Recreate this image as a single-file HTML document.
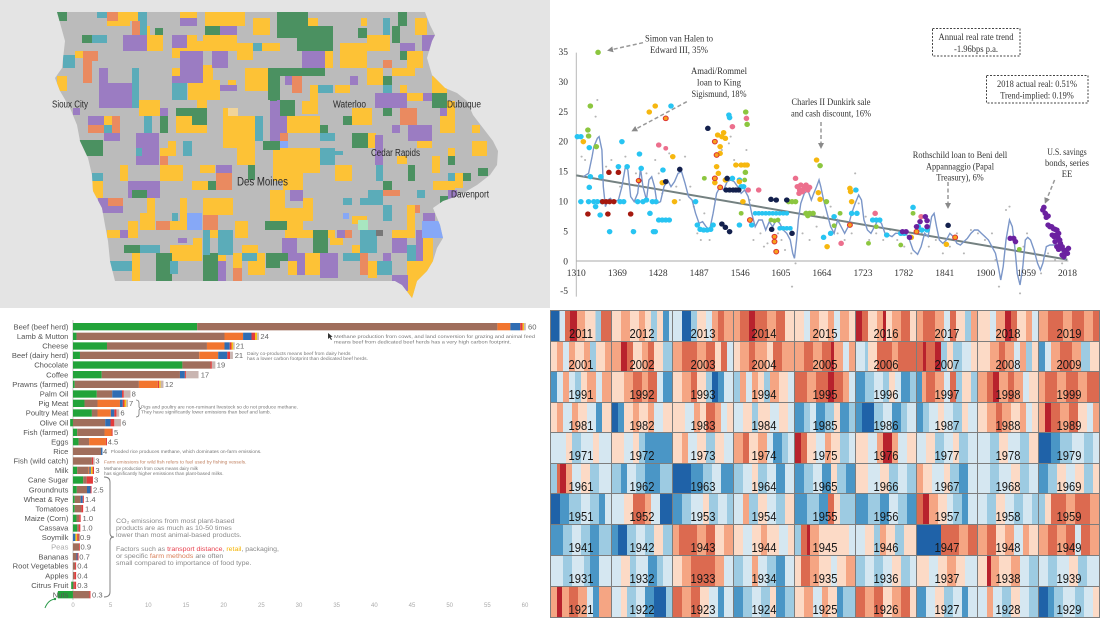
<!DOCTYPE html>
<html><head><meta charset="utf-8">
<style>
html,body{margin:0;padding:0;background:#fff;}
#w{position:relative;width:1100px;height:618px;overflow:hidden;background:#fff;font-family:"Liberation Sans",sans-serif;}
.abs{position:absolute;}
#map{left:0;top:0;width:550px;height:308px;background:#e4e4e4;}
#hm{left:550px;top:310px;width:550px;height:308px;background:#7d7d7d;
--a:#1f62a8;--b:#4a96c6;--c:#9dcbe2;--d:#d5e7f1;--e:#fcdac6;--f:#f5a583;--g:#dc6a50;--h:#b8222d;}
.k{position:absolute;width:60px;}
.k span{position:absolute;left:0;right:0;top:16px;text-align:center;font:13px/1 "Liberation Sans",sans-serif;color:#161616;transform:scaleX(.86);}
.Y{fill:#fdc236}.P{fill:#9b7cc2}.G{fill:#4b9161}.T{fill:#5bacb9}.O{fill:#ea8a60}.L{fill:#86a8f7}
.cy{fill:#27c4f2}.yo{fill:#f6b70f}.gr{fill:#8cc63f}.dr{fill:#a5190f}.nv{fill:#13204d}.pk{fill:#ec6f8d}.or{fill:#f7a21b;stroke:#d33;stroke-width:3}.pu{fill:#6b21a0}.sp{fill:#b5b5b5}
.bg{fill:#22a33a}.bb{fill:#a06e5c}.bo{fill:#f2752f}.bu{fill:#2f6db3}.br{fill:#e33b3b}.by{fill:#f7c31a}.bx{fill:#c9b5b1}
</style></head><body><div id="w">

<!-- MAP -->
<div id="map" class="abs">
<svg width="550" height="308" viewBox="0 0 550 308" style="position:absolute;left:0;top:0">
<defs><clipPath id="ia"><polygon points="57,12 425,12 430,25 435,35 432,41 427,58 432,75 445,88 457,93 467,101 473,115 483,128 493,141 498,151 497,165 490,175 477,185 460,195 443,201 433,208 440,225 443,238 437,248 433,261 427,271 417,281 413,295 412,298 402,285 395,281 115,281 110,261 108,241 105,225 102,208 93,191 92,175 88,158 80,141 77,125 70,108 60,91 55,78 62,68 65,41 57,12"/></clipPath></defs>
<polygon points="57,12 425,12 430,25 435,35 432,41 427,58 432,75 445,88 457,93 467,101 473,115 483,128 493,141 498,151 497,165 490,175 477,185 460,195 443,201 433,208 440,225 443,238 437,248 433,261 427,271 417,281 413,295 412,298 402,285 395,281 115,281 110,261 108,241 105,225 102,208 93,191 92,175 88,158 80,141 77,125 70,108 60,91 55,78 62,68 65,41 57,12" fill="#bbbbbb"/>
<g clip-path="url(#ia)">
<g class="Y">
<rect x="107" y="21" width="23" height="5"/><rect x="118" y="12" width="20" height="9"/><rect x="138" y="26" width="12" height="9"/><rect x="180" y="12" width="17" height="6"/><rect x="205" y="12" width="40" height="14"/><rect x="253" y="18" width="17" height="17"/><rect x="147" y="35" width="16" height="16"/><rect x="172" y="41" width="31" height="17"/><rect x="187" y="35" width="10" height="6"/><rect x="203" y="35" width="34" height="16"/><rect x="237" y="43" width="16" height="17"/><rect x="262" y="43" width="18" height="8"/><rect x="75" y="51" width="17" height="7"/><rect x="172" y="68" width="8" height="8"/><rect x="188" y="80" width="32" height="20"/><rect x="203" y="65" width="10" height="15"/><rect x="228" y="80" width="8" height="8"/><rect x="245" y="68" width="23" height="23"/><rect x="57" y="76" width="10" height="15"/><rect x="139" y="100" width="21" height="16"/><rect x="176" y="116" width="31" height="17"/><rect x="197" y="100" width="10" height="8"/><rect x="223" y="108" width="14" height="40"/><rect x="237" y="116" width="18" height="49"/><rect x="104" y="116" width="8" height="9"/><rect x="160" y="148" width="16" height="8"/><rect x="168" y="141" width="8" height="7"/><rect x="160" y="165" width="23" height="16"/><rect x="120" y="165" width="8" height="16"/><rect x="200" y="165" width="15" height="8"/><rect x="192" y="181" width="16" height="9"/><rect x="90" y="181" width="13" height="17"/><rect x="147" y="198" width="8" height="23"/><rect x="140" y="213" width="15" height="17"/><rect x="180" y="198" width="7" height="23"/><rect x="203" y="198" width="30" height="17"/><rect x="170" y="221" width="17" height="9"/><rect x="235" y="221" width="13" height="17"/><rect x="107" y="230" width="13" height="8"/><rect x="128" y="221" width="10" height="17"/><rect x="193" y="238" width="9" height="23"/><rect x="170" y="245" width="23" height="16"/><rect x="210" y="230" width="8" height="8"/><rect x="242" y="245" width="16" height="8"/><rect x="132" y="253" width="8" height="28"/><rect x="218" y="253" width="8" height="8"/><rect x="233" y="253" width="9" height="15"/><rect x="248" y="253" width="17" height="22"/>
<rect x="308" y="18" width="10" height="8"/><rect x="318" y="51" width="15" height="17"/><rect x="361" y="18" width="6" height="8"/><rect x="367" y="35" width="23" height="16"/><rect x="340" y="43" width="27" height="25"/><rect x="415" y="18" width="12" height="17"/><rect x="407" y="51" width="16" height="17"/><rect x="392" y="68" width="23" height="8"/><rect x="367" y="68" width="16" height="17"/><rect x="335" y="85" width="15" height="8"/><rect x="310" y="85" width="8" height="23"/><rect x="302" y="101" width="16" height="13"/><rect x="400" y="85" width="7" height="8"/><rect x="407" y="93" width="16" height="8"/><rect x="432" y="76" width="15" height="17"/><rect x="440" y="101" width="15" height="32"/><rect x="285" y="116" width="35" height="17"/><rect x="352" y="108" width="20" height="17"/><rect x="368" y="133" width="8" height="15"/><rect x="417" y="133" width="15" height="15"/><rect x="273" y="148" width="12" height="33"/><rect x="285" y="148" width="35" height="25"/><rect x="283" y="173" width="20" height="17"/><rect x="335" y="165" width="17" height="16"/><rect x="397" y="156" width="10" height="8"/><rect x="448" y="148" width="7" height="8"/><rect x="432" y="156" width="8" height="17"/><rect x="472" y="141" width="15" height="15"/><rect x="472" y="125" width="8" height="8"/><rect x="455" y="173" width="8" height="15"/><rect x="433" y="181" width="22" height="9"/><rect x="270" y="190" width="15" height="18"/><rect x="270" y="208" width="33" height="22"/><rect x="303" y="198" width="10" height="23"/><rect x="285" y="230" width="50" height="8"/><rect x="352" y="216" width="15" height="8"/><rect x="330" y="238" width="13" height="7"/><rect x="352" y="245" width="25" height="8"/><rect x="392" y="230" width="15" height="8"/><rect x="407" y="205" width="8" height="33"/><rect x="423" y="238" width="10" height="23"/><rect x="305" y="253" width="15" height="22"/><rect x="368" y="261" width="9" height="17"/><rect x="407" y="261" width="26" height="20"/><rect x="407" y="281" width="10" height="17"/><rect x="288" y="253" width="9" height="22"/>
</g>
<g class="P">
<rect x="180" y="18" width="17" height="8"/><rect x="220" y="26" width="17" height="9"/><rect x="123" y="35" width="24" height="16"/><rect x="172" y="35" width="15" height="13"/><rect x="212" y="51" width="16" height="17"/><rect x="180" y="51" width="23" height="32"/><rect x="172" y="76" width="8" height="7"/><rect x="220" y="85" width="17" height="6"/><rect x="99" y="68" width="9" height="40"/><rect x="108" y="83" width="24" height="25"/><rect x="160" y="108" width="8" height="8"/><rect x="73" y="108" width="7" height="7"/><rect x="88" y="116" width="16" height="9"/><rect x="104" y="133" width="16" height="8"/><rect x="136" y="133" width="23" height="32"/><rect x="216" y="165" width="16" height="8"/><rect x="128" y="181" width="32" height="17"/><rect x="98" y="198" width="25" height="15"/><rect x="120" y="230" width="8" height="8"/><rect x="178" y="238" width="9" height="5"/><rect x="210" y="261" width="16" height="20"/>
<rect x="302" y="48" width="23" height="20"/><rect x="285" y="76" width="7" height="9"/><rect x="422" y="35" width="13" height="16"/><rect x="400" y="43" width="15" height="8"/><rect x="350" y="76" width="8" height="9"/><rect x="423" y="93" width="9" height="8"/><rect x="375" y="93" width="32" height="15"/><rect x="270" y="100" width="17" height="41"/><rect x="440" y="108" width="7" height="8"/><rect x="392" y="125" width="8" height="8"/><rect x="408" y="125" width="24" height="16"/><rect x="375" y="135" width="8" height="30"/><rect x="448" y="190" width="9" height="11"/><rect x="290" y="190" width="13" height="11"/><rect x="423" y="213" width="12" height="17"/><rect x="337" y="230" width="8" height="8"/><rect x="392" y="238" width="15" height="15"/><rect x="416" y="230" width="7" height="31"/><rect x="282" y="238" width="15" height="23"/><rect x="297" y="253" width="8" height="22"/><rect x="320" y="253" width="18" height="25"/><rect x="383" y="253" width="8" height="8"/><rect x="392" y="275" width="16" height="16"/>
</g>
<g class="G">
<rect x="57" y="12" width="10" height="9"/><rect x="155" y="28" width="8" height="7"/><rect x="205" y="26" width="15" height="9"/><rect x="82" y="35" width="10" height="8"/><rect x="268" y="68" width="12" height="32"/><rect x="176" y="108" width="31" height="8"/><rect x="192" y="116" width="15" height="9"/><rect x="160" y="116" width="8" height="17"/><rect x="263" y="141" width="17" height="9"/><rect x="258" y="125" width="5" height="8"/><rect x="79" y="140" width="24" height="16"/><rect x="208" y="181" width="8" height="9"/><rect x="248" y="165" width="7" height="15"/><rect x="132" y="190" width="15" height="8"/><rect x="265" y="221" width="15" height="9"/><rect x="124" y="245" width="16" height="8"/><rect x="156" y="253" width="16" height="28"/><rect x="203" y="253" width="15" height="28"/><rect x="266" y="253" width="14" height="15"/>
<rect x="277" y="12" width="31" height="26"/><rect x="297" y="26" width="36" height="25"/><rect x="270" y="68" width="55" height="8"/><rect x="270" y="68" width="7" height="33"/><rect x="358" y="28" width="9" height="10"/><rect x="392" y="26" width="8" height="17"/><rect x="398" y="12" width="9" height="14"/><rect x="400" y="51" width="7" height="9"/><rect x="383" y="76" width="9" height="9"/><rect x="432" y="93" width="15" height="15"/><rect x="280" y="100" width="15" height="16"/><rect x="383" y="108" width="9" height="8"/><rect x="343" y="116" width="9" height="9"/><rect x="320" y="125" width="8" height="8"/><rect x="352" y="133" width="16" height="15"/><rect x="448" y="156" width="7" height="9"/><rect x="408" y="165" width="7" height="16"/><rect x="478" y="168" width="10" height="8"/><rect x="463" y="173" width="8" height="8"/><rect x="440" y="196" width="8" height="8"/><rect x="383" y="181" width="9" height="9"/><rect x="313" y="230" width="15" height="23"/><rect x="270" y="253" width="18" height="8"/><rect x="270" y="221" width="17" height="9"/>
</g>
<g class="T">
<rect x="97" y="12" width="10" height="6"/><rect x="138" y="12" width="9" height="23"/><rect x="92" y="35" width="15" height="8"/><rect x="253" y="43" width="9" height="8"/><rect x="63" y="55" width="12" height="13"/><rect x="172" y="83" width="15" height="17"/><rect x="132" y="68" width="7" height="40"/><rect x="104" y="125" width="8" height="8"/><rect x="144" y="116" width="8" height="17"/><rect x="255" y="116" width="8" height="25"/><rect x="183" y="141" width="9" height="15"/><rect x="136" y="148" width="6" height="8"/><rect x="92" y="173" width="11" height="8"/><rect x="172" y="213" width="6" height="8"/><rect x="203" y="230" width="7" height="25"/><rect x="218" y="230" width="15" height="25"/><rect x="140" y="245" width="20" height="8"/><rect x="107" y="261" width="25" height="10"/><rect x="170" y="261" width="8" height="13"/><rect x="242" y="253" width="15" height="8"/>
<rect x="383" y="18" width="7" height="17"/><rect x="383" y="85" width="9" height="8"/><rect x="318" y="85" width="15" height="8"/><rect x="320" y="133" width="15" height="8"/><rect x="320" y="148" width="15" height="17"/><rect x="335" y="151" width="8" height="4"/><rect x="376" y="165" width="7" height="16"/><rect x="448" y="173" width="7" height="8"/><rect x="417" y="190" width="8" height="8"/><rect x="368" y="190" width="15" height="15"/><rect x="360" y="198" width="8" height="7"/><rect x="343" y="198" width="9" height="7"/><rect x="383" y="205" width="9" height="16"/><rect x="360" y="230" width="17" height="23"/><rect x="407" y="245" width="9" height="16"/><rect x="343" y="253" width="17" height="8"/><rect x="377" y="261" width="15" height="14"/>
</g>
<g class="O">
<rect x="107" y="12" width="11" height="9"/><rect x="132" y="21" width="8" height="14"/><rect x="83" y="51" width="9" height="32"/><rect x="92" y="51" width="6" height="10"/><rect x="88" y="125" width="16" height="8"/><rect x="112" y="116" width="8" height="17"/><rect x="160" y="156" width="8" height="9"/><rect x="216" y="173" width="16" height="17"/><rect x="108" y="198" width="15" height="8"/><rect x="203" y="215" width="15" height="15"/><rect x="156" y="221" width="14" height="9"/><rect x="233" y="268" width="9" height="13"/>
<rect x="383" y="60" width="9" height="8"/><rect x="292" y="76" width="10" height="17"/><rect x="400" y="108" width="17" height="17"/><rect x="280" y="133" width="8" height="8"/><rect x="383" y="190" width="17" height="6"/><rect x="345" y="230" width="7" height="8"/><rect x="360" y="253" width="8" height="22"/><rect x="415" y="205" width="5" height="8"/>
</g>
<g class="L"><rect x="187" y="213" width="15" height="17"/><rect x="280" y="141" width="8" height="7"/><rect x="343" y="213" width="6" height="6"/><rect x="422" y="221" width="21" height="17"/></g>
<rect fill="#a8e6c0" x="358" y="220" width="10" height="10"/><rect fill="#777" x="376" y="230" width="7" height="6"/><rect fill="#f0d49a" x="228" y="108" width="10" height="8"/>
</g></svg></div>

<!-- TOP RIGHT CHART -->
<svg class="abs" style="left:550px;top:0" width="550" height="308" viewBox="0 0 1568 924" preserveAspectRatio="none">
<line x1="75" y1="158" x2="75" y2="890" stroke="#b8b8b8" stroke-width="1" vector-effect="non-scaling-stroke"/>
<line x1="75" y1="783" x2="1478" y2="783" stroke="#aaa" stroke-width="1" vector-effect="non-scaling-stroke"/>
<g class="sp">
<circle cx="90" cy="470" r="3"/><circle cx="100" cy="480" r="3"/><circle cx="115" cy="560" r="3"/><circle cx="130" cy="350" r="3"/><circle cx="135" cy="300" r="3"/><circle cx="145" cy="640" r="3"/><circle cx="160" cy="500" r="3"/><circle cx="175" cy="480" r="3"/><circle cx="190" cy="520" r="3"/><circle cx="200" cy="560" r="3"/><circle cx="215" cy="470" r="3"/><circle cx="225" cy="640" r="3"/><circle cx="235" cy="690" r="3"/><circle cx="245" cy="520" r="3"/><circle cx="260" cy="460" r="3"/><circle cx="275" cy="520" r="3"/><circle cx="280" cy="640" r="3"/><circle cx="300" cy="480" r="3"/><circle cx="310" cy="520" r="3"/><circle cx="320" cy="580" r="3"/><circle cx="340" cy="460" r="3"/><circle cx="360" cy="560" r="3"/><circle cx="370" cy="600" r="3"/><circle cx="385" cy="470" r="3"/><circle cx="400" cy="560" r="3"/><circle cx="410" cy="620" r="3"/><circle cx="420" cy="700" r="3"/><circle cx="430" cy="720" r="3"/><circle cx="440" cy="640" r="3"/><circle cx="455" cy="720" r="3"/><circle cx="470" cy="600" r="3"/><circle cx="490" cy="450" r="3"/><circle cx="510" cy="430" r="3"/><circle cx="515" cy="410" r="3"/><circle cx="525" cy="480" r="3"/><circle cx="560" cy="450" r="3"/><circle cx="570" cy="600" r="3"/><circle cx="580" cy="720" r="3"/><circle cx="600" cy="700" r="3"/><circle cx="610" cy="740" r="3"/><circle cx="620" cy="730" r="3"/><circle cx="650" cy="700" r="3"/><circle cx="660" cy="720" r="3"/><circle cx="670" cy="750" r="3"/><circle cx="690" cy="860" r="3"/><circle cx="700" cy="790" r="3"/><circle cx="720" cy="700" r="3"/><circle cx="740" cy="720" r="3"/><circle cx="760" cy="680" r="3"/><circle cx="780" cy="650" r="3"/><circle cx="800" cy="620" r="3"/><circle cx="820" cy="700" r="3"/><circle cx="840" cy="720" r="3"/><circle cx="860" cy="700" r="3"/><circle cx="870" cy="520" r="3"/><circle cx="880" cy="610" r="3"/><circle cx="900" cy="650" r="3"/><circle cx="910" cy="720" r="3"/><circle cx="930" cy="700" r="3"/><circle cx="950" cy="720" r="3"/><circle cx="970" cy="690" r="3"/><circle cx="990" cy="720" r="3"/><circle cx="1010" cy="740" r="3"/><circle cx="1030" cy="760" r="3"/><circle cx="1060" cy="700" r="3"/><circle cx="1080" cy="740" r="3"/><circle cx="1100" cy="720" r="3"/><circle cx="1120" cy="760" r="3"/><circle cx="1140" cy="740" r="3"/><circle cx="1160" cy="700" r="3"/><circle cx="1180" cy="760" r="3"/><circle cx="1200" cy="690" r="3"/><circle cx="1220" cy="700" r="3"/><circle cx="1240" cy="720" r="3"/><circle cx="1260" cy="700" r="3"/><circle cx="1270" cy="780" r="3"/><circle cx="1280" cy="860" r="3"/><circle cx="1300" cy="630" r="3"/><circle cx="1310" cy="620" r="3"/><circle cx="1320" cy="720" r="3"/><circle cx="1340" cy="880" r="3"/><circle cx="1350" cy="740" r="3"/><circle cx="1360" cy="700" r="3"/><circle cx="1380" cy="760" r="3"/><circle cx="1400" cy="820" r="3"/><circle cx="1420" cy="760" r="3"/><circle cx="1440" cy="780" r="3"/><circle cx="1460" cy="790" r="3"/>
</g>
<line x1="75" y1="526" x2="1475" y2="779" stroke="#748181" stroke-width="2" vector-effect="non-scaling-stroke"/>
<polyline fill="none" stroke="#7b96c8" stroke-width="1.4" vector-effect="non-scaling-stroke" points="95,530 110,520 120,470 125,440 135,415 140,410 148,450 152,560 158,620 165,600 172,595 180,605 195,600 205,560 215,500 222,510 230,590 240,605 250,580 258,505 265,560 275,600 282,540 290,530 298,560 305,610 315,605 325,560 335,540 345,560 355,545 365,520 375,515 385,550 395,590 405,600 415,640 425,670 435,665 445,680 455,690 465,640 475,580 485,560 495,570 505,545 515,540 525,545 535,560 545,580 555,570 565,590 575,640 585,680 595,660 605,660 615,690 625,665 635,680 645,660 655,670 665,690 675,700 685,720 692,760 697,775 703,720 708,660 715,610 725,580 735,570 745,600 752,580 760,560 767,540 772,560 780,600 790,640 800,680 810,700 820,660 830,680 840,700 850,680 860,640 870,610 880,585 888,600 895,660 905,690 915,700 925,680 935,660 945,670 955,700 965,705 975,710 985,700 995,700 1005,705 1015,700 1025,720 1035,750 1048,763 1058,740 1068,700 1078,710 1088,650 1095,640 1102,680 1110,720 1120,730 1130,720 1140,700 1150,710 1160,730 1170,735 1180,725 1190,715 1200,700 1210,690 1220,690 1230,700 1240,710 1250,720 1260,740 1270,760 1278,800 1285,840 1292,800 1300,720 1310,660 1318,680 1325,740 1332,820 1340,855 1348,800 1355,720 1362,712 1370,720 1380,750 1390,790 1398,810 1405,790 1415,740 1425,735 1440,735 1455,740 1470,780"/>
<g>
<g class="gr"><circle cx="137" cy="157" r="8"/><circle cx="115" cy="318" r="8"/><circle cx="108" cy="390" r="8"/><circle cx="110" cy="408" r="8"/><circle cx="132" cy="440" r="8"/><circle cx="558" cy="336" r="8"/><circle cx="562" cy="373" r="8"/><circle cx="557" cy="517" r="8"/><circle cx="770" cy="497" r="8"/><circle cx="630" cy="660" r="7"/><circle cx="640" cy="662" r="7"/><circle cx="650" cy="660" r="7"/><circle cx="680" cy="605" r="8"/><circle cx="690" cy="605" r="8"/><circle cx="700" cy="605" r="8"/><circle cx="730" cy="640" r="8"/><circle cx="740" cy="640" r="8"/><circle cx="750" cy="640" r="8"/><circle cx="735" cy="647" r="8"/><circle cx="788" cy="605" r="8"/><circle cx="827" cy="640" r="7"/><circle cx="810" cy="677" r="7"/><circle cx="908" cy="730" r="7"/><circle cx="1035" cy="640" r="7"/><circle cx="1000" cy="735" r="7"/><circle cx="1338" cy="748" r="7"/><circle cx="930" cy="680" r="7"/><circle cx="545" cy="640" r="7"/><circle cx="555" cy="540" r="7"/><circle cx="440" cy="535" r="7"/></g>
<g class="cy"><circle cx="78" cy="410" r="8"/><circle cx="88" cy="410" r="8"/><circle cx="205" cy="425" r="8"/><circle cx="112" cy="443" r="8"/><circle cx="115" cy="530" r="8"/><circle cx="112" cy="562" r="8"/><circle cx="145" cy="530" r="8"/><circle cx="88" cy="605" r="8"/><circle cx="110" cy="605" r="8"/><circle cx="125" cy="605" r="8"/><circle cx="135" cy="605" r="8"/><circle cx="148" cy="605" r="8"/><circle cx="130" cy="620" r="8"/><circle cx="143" cy="645" r="8"/><circle cx="170" cy="695" r="8"/><circle cx="220" cy="500" r="8"/><circle cx="195" cy="500" r="8"/><circle cx="200" cy="605" r="8"/><circle cx="210" cy="605" r="8"/><circle cx="238" cy="695" r="8"/><circle cx="255" cy="462" r="8"/><circle cx="260" cy="505" r="8"/><circle cx="250" cy="605" r="8"/><circle cx="265" cy="605" r="8"/><circle cx="275" cy="600" r="8"/><circle cx="285" cy="640" r="8"/><circle cx="295" cy="695" r="8"/><circle cx="300" cy="695" r="8"/><circle cx="310" cy="660" r="8"/><circle cx="320" cy="660" r="8"/><circle cx="330" cy="660" r="8"/><circle cx="340" cy="660" r="8"/><circle cx="345" cy="318" r="8"/><circle cx="322" cy="510" r="8"/><circle cx="292" cy="605" r="8"/><circle cx="302" cy="605" r="8"/><circle cx="415" cy="605" r="8"/><circle cx="420" cy="675" r="8"/><circle cx="428" cy="688" r="8"/><circle cx="438" cy="690" r="8"/><circle cx="448" cy="690" r="8"/><circle cx="458" cy="688" r="8"/><circle cx="465" cy="675" r="8"/><circle cx="510" cy="345" r="8"/><circle cx="512" cy="353" r="8"/><circle cx="520" cy="535" r="8"/><circle cx="540" cy="540" r="8"/><circle cx="545" cy="560" r="8"/><circle cx="552" cy="560" r="8"/><circle cx="540" cy="675" r="8"/><circle cx="575" cy="675" r="8"/><circle cx="585" cy="640" r="7"/><circle cx="595" cy="640" r="7"/><circle cx="605" cy="640" r="7"/><circle cx="615" cy="640" r="7"/><circle cx="625" cy="640" r="7"/><circle cx="635" cy="640" r="7"/><circle cx="645" cy="640" r="7"/><circle cx="655" cy="640" r="7"/><circle cx="665" cy="640" r="7"/><circle cx="675" cy="640" r="7"/><circle cx="655" cy="685" r="7"/><circle cx="665" cy="685" r="7"/><circle cx="675" cy="685" r="7"/><circle cx="685" cy="685" r="7"/><circle cx="780" cy="712" r="8"/><circle cx="800" cy="700" r="8"/><circle cx="810" cy="650" r="8"/><circle cx="860" cy="640" r="8"/><circle cx="872" cy="570" r="8"/><circle cx="875" cy="640" r="8"/><circle cx="920" cy="660" r="8"/><circle cx="930" cy="660" r="8"/><circle cx="940" cy="660" r="8"/><circle cx="960" cy="705" r="8"/><circle cx="1000" cy="700" r="8"/><circle cx="1010" cy="700" r="8"/><circle cx="1035" cy="622" r="8"/><circle cx="1050" cy="680" r="8"/><circle cx="1060" cy="690" r="8"/><circle cx="1075" cy="690" r="8"/></g>
<g class="yo"><circle cx="95" cy="425" r="8"/><circle cx="283" cy="336" r="8"/><circle cx="300" cy="318" r="8"/><circle cx="355" cy="605" r="8"/><circle cx="350" cy="470" r="8"/><circle cx="320" cy="548" r="8"/><circle cx="478" cy="405" r="8"/><circle cx="490" cy="410" r="8"/><circle cx="495" cy="398" r="8"/><circle cx="500" cy="415" r="8"/><circle cx="485" cy="460" r="8"/><circle cx="485" cy="440" r="8"/><circle cx="480" cy="520" r="8"/><circle cx="470" cy="548" r="8"/><circle cx="475" cy="500" r="8"/><circle cx="500" cy="540" r="8"/><circle cx="530" cy="495" r="8"/><circle cx="545" cy="495" r="8"/><circle cx="555" cy="495" r="8"/><circle cx="562" cy="495" r="8"/><circle cx="540" cy="545" r="8"/><circle cx="550" cy="605" r="8"/><circle cx="760" cy="480" r="8"/><circle cx="765" cy="578" r="8"/><circle cx="770" cy="598" r="8"/><circle cx="790" cy="740" r="8"/><circle cx="855" cy="565" r="8"/><circle cx="860" cy="605" r="8"/><circle cx="857" cy="575" r="8"/><circle cx="1030" cy="712" r="8"/><circle cx="1130" cy="733" r="8"/></g>
<g class="dr"><circle cx="108" cy="642" r="8"/><circle cx="150" cy="605" r="8"/><circle cx="160" cy="605" r="8"/><circle cx="170" cy="605" r="8"/><circle cx="182" cy="605" r="8"/><circle cx="165" cy="642" r="8"/><circle cx="168" cy="517" r="8"/><circle cx="195" cy="517" r="8"/><circle cx="230" cy="642" r="8"/><circle cx="253" cy="542" r="8"/></g>
<g class="nv"><circle cx="450" cy="385" r="8"/><circle cx="370" cy="508" r="8"/><circle cx="330" cy="545" r="8"/><circle cx="505" cy="535" r="8"/><circle cx="502" cy="570" r="8"/><circle cx="512" cy="570" r="8"/><circle cx="522" cy="570" r="8"/><circle cx="530" cy="570" r="8"/><circle cx="538" cy="570" r="8"/><circle cx="490" cy="672" r="8"/><circle cx="500" cy="682" r="8"/><circle cx="512" cy="695" r="8"/><circle cx="630" cy="598" r="8"/><circle cx="645" cy="600" r="8"/><circle cx="632" cy="688" r="8"/><circle cx="675" cy="600" r="8"/><circle cx="690" cy="700" r="8"/><circle cx="1135" cy="676" r="8"/></g>
<g class="pk"><circle cx="310" cy="435" r="8"/><circle cx="520" cy="380" r="8"/><circle cx="560" cy="355" r="8"/><circle cx="565" cy="570" r="8"/><circle cx="595" cy="570" r="8"/><circle cx="700" cy="535" r="8"/><circle cx="705" cy="560" r="8"/><circle cx="712" cy="570" r="8"/><circle cx="715" cy="555" r="8"/><circle cx="720" cy="575" r="8"/><circle cx="725" cy="565" r="8"/><circle cx="730" cy="555" r="8"/><circle cx="735" cy="570" r="8"/><circle cx="740" cy="562" r="8"/><circle cx="710" cy="580" r="8"/><circle cx="830" cy="730" r="8"/><circle cx="927" cy="640" r="8"/><circle cx="1058" cy="650" r="8"/><circle cx="330" cy="445" r="7"/></g>
<g class="or"><circle cx="330" cy="355" r="7"/><circle cx="470" cy="425" r="7"/><circle cx="475" cy="465" r="7"/><circle cx="485" cy="562" r="7"/><circle cx="470" cy="535" r="7"/><circle cx="640" cy="710" r="7"/><circle cx="640" cy="725" r="7"/><circle cx="645" cy="755" r="7"/><circle cx="855" cy="675" r="7"/><circle cx="1045" cy="695" r="7"/><circle cx="1155" cy="712" r="7"/><circle cx="252" cy="542" r="6"/><circle cx="570" cy="660" r="7"/></g>
<g class="pu"><circle cx="1405" cy="630" r="8"/><circle cx="1408" cy="622" r="8"/><circle cx="1412" cy="640" r="8"/><circle cx="1415" cy="652" r="8"/><circle cx="1420" cy="675" r="8"/><circle cx="1425" cy="680" r="8"/><circle cx="1430" cy="680" r="8"/><circle cx="1435" cy="686" r="8"/><circle cx="1440" cy="688" r="8"/><circle cx="1445" cy="690" r="8"/><circle cx="1450" cy="700" r="8"/><circle cx="1420" cy="648" r="8"/><circle cx="1432" cy="705" r="8"/><circle cx="1437" cy="710" r="8"/><circle cx="1442" cy="705" r="8"/><circle cx="1448" cy="712" r="8"/><circle cx="1453" cy="720" r="8"/><circle cx="1455" cy="730" r="8"/><circle cx="1460" cy="740" r="8"/><circle cx="1465" cy="750" r="8"/><circle cx="1470" cy="755" r="8"/><circle cx="1475" cy="760" r="8"/><circle cx="1460" cy="765" r="8"/><circle cx="1465" cy="770" r="8"/><circle cx="1478" cy="745" r="8"/><circle cx="1440" cy="725" r="8"/><circle cx="1445" cy="740" r="8"/><circle cx="1450" cy="748" r="8"/><circle cx="1312" cy="715" r="8"/><circle cx="1322" cy="715" r="8"/><circle cx="1327" cy="725" r="8"/><circle cx="1055" cy="665" r="8"/><circle cx="1070" cy="650" r="8"/><circle cx="1075" cy="662" r="8"/><circle cx="1075" cy="680" r="8"/><circle cx="1045" cy="680" r="8"/><circle cx="1005" cy="695" r="8"/><circle cx="1015" cy="695" r="8"/><circle cx="1025" cy="712" r="8"/></g>
</g>
</svg>

<!-- BOTTOM LEFT BAR CHART -->
<svg class="abs" style="left:0;top:300px" width="550" height="318" viewBox="0 0 1568 954" preserveAspectRatio="none">
<line x1="208" y1="60" x2="208" y2="900" stroke="#ccc" stroke-width="1" vector-effect="non-scaling-stroke"/>
<g>
<rect class="bg" x="208" y="69" width="354" height="22"/><rect class="bb" x="562" y="69" width="856" height="22"/><rect class="bo" x="1418" y="69" width="37" height="22"/><rect class="bu" x="1455" y="69" width="28" height="22"/><rect class="br" x="1483" y="69" width="7" height="22"/><rect class="by" x="1490" y="69" width="4" height="22"/><rect class="bx" x="1494" y="69" width="5" height="22"/>
<rect class="bg" x="208" y="98" width="10" height="22"/><rect class="bb" x="218" y="98" width="422" height="22"/><rect class="bo" x="640" y="98" width="53" height="22"/><rect class="bu" x="693" y="98" width="24" height="22"/><rect class="br" x="717" y="98" width="10" height="22"/><rect class="by" x="727" y="98" width="6" height="22"/><rect class="bx" x="733" y="98" width="5" height="22"/>
<rect class="bg" x="208" y="127" width="97" height="22"/><rect class="bb" x="305" y="127" width="285" height="22"/><rect class="bo" x="590" y="127" width="50" height="22"/><rect class="bu" x="640" y="127" width="15" height="22"/><rect class="br" x="655" y="127" width="5" height="22"/><rect class="by" x="660" y="127" width="5" height="22"/><rect class="bx" x="665" y="127" width="4" height="22"/>
<rect class="bg" x="208" y="155" width="20" height="22"/><rect class="bb" x="228" y="155" width="340" height="22"/><rect class="bo" x="568" y="155" width="54" height="22"/><rect class="bu" x="622" y="155" width="26" height="22"/><rect class="br" x="648" y="155" width="8" height="22"/><rect class="bx" x="656" y="155" width="8" height="22"/>
<rect class="bg" x="208" y="184" width="312" height="22"/><rect class="bb" x="520" y="184" width="80" height="22"/><rect class="br" x="600" y="184" width="4" height="22"/><rect class="bx" x="604" y="184" width="10" height="22"/>
<rect class="bg" x="208" y="213" width="82" height="22"/><rect class="bb" x="290" y="213" width="223" height="22"/><rect class="bu" x="513" y="213" width="14" height="22"/><rect class="br" x="527" y="213" width="3" height="22"/><rect class="bx" x="530" y="213" width="36" height="22"/>
<rect class="bg" x="208" y="242" width="5" height="22"/><rect class="bb" x="213" y="242" width="183" height="22"/><rect class="bo" x="396" y="242" width="54" height="22"/><rect class="br" x="450" y="242" width="4" height="22"/><rect class="by" x="454" y="242" width="4" height="22"/><rect class="bx" x="458" y="242" width="8" height="22"/>
<rect class="bg" x="208" y="271" width="68" height="22"/><rect class="bb" x="276" y="271" width="44" height="22"/><rect class="bu" x="320" y="271" width="28" height="22"/><rect class="br" x="348" y="271" width="5" height="22"/><rect class="bx" x="353" y="271" width="19" height="22"/>
<rect class="bg" x="208" y="299" width="33" height="22"/><rect class="bb" x="241" y="299" width="37" height="22"/><rect class="bo" x="278" y="299" width="64" height="22"/><rect class="bu" x="342" y="299" width="8" height="22"/><rect class="br" x="350" y="299" width="5" height="22"/><rect class="by" x="355" y="299" width="5" height="22"/><rect class="bx" x="360" y="299" width="5" height="22"/>
<rect class="bg" x="208" y="328" width="54" height="22"/><rect class="bb" x="262" y="328" width="16" height="22"/><rect class="bo" x="278" y="328" width="38" height="22"/><rect class="bu" x="316" y="328" width="10" height="22"/><rect class="br" x="326" y="328" width="6" height="22"/><rect class="bx" x="332" y="328" width="8" height="22"/>
<rect class="bg" x="200" y="357" width="8" height="22"/><rect class="bb" x="208" y="357" width="92" height="22"/><rect class="bu" x="300" y="357" width="15" height="22"/><rect class="br" x="315" y="357" width="11" height="22"/><rect class="bx" x="326" y="357" width="19" height="22"/>
<rect class="bg" x="208" y="386" width="12" height="22"/><rect class="bb" x="220" y="386" width="78" height="22"/><rect class="bo" x="298" y="386" width="20" height="22"/><rect class="br" x="318" y="386" width="3" height="22"/>
<rect class="bg" x="208" y="414" width="16" height="22"/><rect class="bb" x="224" y="414" width="30" height="22"/><rect class="bo" x="254" y="414" width="48" height="22"/><rect class="br" x="302" y="414" width="3" height="22"/>
<rect class="bb" x="208" y="443" width="80" height="22"/><rect class="bu" x="288" y="443" width="4" height="22"/>
<rect class="bb" x="208" y="472" width="54" height="22"/><rect class="br" x="262" y="472" width="4" height="22"/><rect class="bx" x="266" y="472" width="4" height="22"/>
<rect class="bg" x="208" y="500" width="12" height="22"/><rect class="bb" x="220" y="500" width="32" height="22"/><rect class="bo" x="252" y="500" width="3" height="22"/><rect class="bu" x="255" y="500" width="4" height="22"/><rect class="by" x="259" y="500" width="5" height="22"/><rect class="br" x="264" y="500" width="4" height="22"/>
<rect class="bg" x="208" y="529" width="29" height="22"/><rect class="bb" x="237" y="529" width="10" height="22"/><rect class="br" x="247" y="529" width="18" height="22"/>
<rect class="bg" x="208" y="558" width="11" height="22"/><rect class="bb" x="219" y="558" width="29" height="22"/><rect class="bu" x="248" y="558" width="10" height="22"/><rect class="br" x="258" y="558" width="3" height="22"/>
<rect class="bg" x="208" y="587" width="5" height="22"/><rect class="bb" x="213" y="587" width="17" height="22"/><rect class="bu" x="230" y="587" width="6" height="22"/><rect class="br" x="236" y="587" width="3" height="22"/>
<rect class="bg" x="208" y="615" width="5" height="22"/><rect class="bb" x="213" y="615" width="19" height="22"/><rect class="br" x="232" y="615" width="5" height="22"/>
<rect class="bg" x="208" y="644" width="10" height="22"/><rect class="bb" x="218" y="644" width="8" height="22"/><rect class="br" x="226" y="644" width="4" height="22"/>
<rect class="bg" x="208" y="673" width="12" height="22"/><rect class="bb" x="220" y="673" width="5" height="22"/><rect class="br" x="225" y="673" width="4" height="22"/>
<rect class="bu" x="208" y="701" width="7" height="22"/><rect class="by" x="215" y="701" width="5" height="22"/><rect class="br" x="220" y="701" width="4" height="22"/><rect class="bb" x="224" y="701" width="3" height="22"/>
<rect class="bb" x="208" y="730" width="18" height="22"/><rect class="br" x="226" y="730" width="2" height="22"/>
<rect class="bb" x="208" y="759" width="10" height="22"/><rect class="bu" x="218" y="759" width="3" height="22"/><rect class="br" x="221" y="759" width="3" height="22"/>
<rect class="bb" x="208" y="787" width="6" height="22"/><rect class="br" x="214" y="787" width="3" height="22"/>
<rect class="bb" x="208" y="816" width="4" height="22"/><rect class="br" x="212" y="816" width="5" height="22"/>
<rect class="bg" x="203" y="845" width="5" height="22"/><rect class="bb" x="208" y="845" width="4" height="22"/><rect class="br" x="212" y="845" width="5" height="22"/>
<rect class="bg" x="165" y="873" width="43" height="22"/><rect class="bb" x="208" y="873" width="47" height="22"/><rect class="br" x="255" y="873" width="3" height="22"/>
</g>
</svg>

<!-- HEATMAP -->
<div id="hm" class="abs">
<div class="k" style="left:1px;top:1px;height:30px;background:linear-gradient(90deg,var(--a) 0 14%,var(--d) 14% 23%,var(--g) 23% 32%,var(--h) 32% 43%,var(--f) 43% 57%,var(--e) 57% 74%,var(--c) 74% 83%,var(--g) 83% 100%)"><span>2011</span></div>
<div class="k" style="left:62px;top:1px;height:30px;background:linear-gradient(90deg,var(--e) 0 15%,var(--f) 15% 30%,var(--e) 30% 45%,var(--f) 45% 55%,var(--e) 55% 65%,var(--c) 65% 75%,var(--e) 75% 85%,var(--b) 85% 95%,var(--d) 95% 100%)"><span>2012</span></div>
<div class="k" style="left:123px;top:1px;height:30px;background:linear-gradient(90deg,var(--d) 0 15%,var(--a) 15% 30%,var(--c) 30% 40%,var(--e) 40% 55%,var(--d) 55% 65%,var(--f) 65% 75%,var(--g) 75% 85%,var(--f) 85% 100%)"><span>2013</span></div>
<div class="k" style="left:184px;top:1px;height:30px;background:linear-gradient(90deg,var(--f) 0 10%,var(--g) 10% 25%,var(--h) 25% 35%,var(--g) 35% 55%,var(--f) 55% 70%,var(--g) 70% 85%,var(--e) 85% 100%)"><span>2014</span></div>
<div class="k" style="left:245px;top:1px;height:30px;background:linear-gradient(90deg,var(--e) 0 15%,var(--d) 15% 25%,var(--f) 25% 40%,var(--e) 40% 55%,var(--f) 55% 65%,var(--d) 65% 75%,var(--f) 75% 90%,var(--e) 90% 100%)"><span>2015</span></div>
<div class="k" style="left:306px;top:1px;height:30px;background:linear-gradient(90deg,var(--h) 0 10%,var(--g) 10% 20%,var(--e) 20% 35%,var(--f) 35% 45%,var(--h) 45% 50%,var(--e) 50% 60%,var(--f) 60% 75%,var(--g) 75% 90%,var(--e) 90% 100%)"><span>2016</span></div>
<div class="k" style="left:367px;top:1px;height:30px;background:linear-gradient(90deg,var(--f) 0 10%,var(--g) 10% 30%,var(--f) 30% 45%,var(--d) 45% 55%,var(--g) 55% 65%,var(--e) 65% 80%,var(--c) 80% 90%,var(--f) 90% 100%)"><span>2017</span></div>
<div class="k" style="left:428px;top:1px;height:30px;background:linear-gradient(90deg,var(--e) 0 20%,var(--d) 20% 30%,var(--f) 30% 45%,var(--h) 45% 55%,var(--g) 55% 65%,var(--e) 65% 80%,var(--f) 80% 90%,var(--d) 90% 100%)"><span>2018</span></div>
<div class="k" style="left:489px;top:1px;height:30px;background:linear-gradient(90deg,var(--f) 0 15%,var(--g) 15% 40%,var(--f) 40% 55%,var(--g) 55% 75%,var(--f) 75% 90%,var(--g) 90% 100%)"><span>2019</span></div>

<div class="k" style="left:1px;top:32px;height:29px;background:linear-gradient(90deg,var(--e) 0 10%,var(--f) 10% 20%,var(--d) 20% 30%,var(--f) 30% 40%,var(--e) 40% 55%,var(--f) 55% 65%,var(--c) 65% 75%,var(--e) 75% 90%,var(--f) 90% 100%)"><span>2001</span></div>
<div class="k" style="left:62px;top:32px;height:29px;background:linear-gradient(90deg,var(--f) 0 15%,var(--h) 15% 25%,var(--g) 25% 35%,var(--e) 35% 50%,var(--f) 50% 60%,var(--g) 60% 70%,var(--e) 70% 85%,var(--c) 85% 100%)"><span>2002</span></div>
<div class="k" style="left:123px;top:32px;height:29px;background:linear-gradient(90deg,var(--f) 0 15%,var(--g) 15% 40%,var(--f) 40% 55%,var(--g) 55% 70%,var(--e) 70% 80%,var(--g) 80% 90%,var(--d) 90% 100%)"><span>2003</span></div>
<div class="k" style="left:184px;top:32px;height:29px;background:linear-gradient(90deg,var(--e) 0 10%,var(--f) 10% 25%,var(--g) 25% 35%,var(--f) 35% 55%,var(--e) 55% 65%,var(--g) 65% 80%,var(--f) 80% 100%)"><span>2004</span></div>
<div class="k" style="left:245px;top:32px;height:29px;background:linear-gradient(90deg,var(--f) 0 15%,var(--g) 15% 30%,var(--f) 30% 45%,var(--g) 45% 60%,var(--h) 60% 65%,var(--f) 65% 80%,var(--d) 80% 90%,var(--f) 90% 100%)"><span>2005</span></div>
<div class="k" style="left:306px;top:32px;height:29px;background:linear-gradient(90deg,var(--d) 0 15%,var(--c) 15% 20%,var(--e) 20% 35%,var(--g) 35% 60%,var(--f) 60% 70%,var(--g) 70% 100%)"><span>2006</span></div>
<div class="k" style="left:367px;top:32px;height:29px;background:linear-gradient(90deg,var(--g) 0 10%,var(--h) 10% 15%,var(--g) 15% 30%,var(--h) 30% 40%,var(--c) 40% 50%,var(--e) 50% 60%,var(--c) 60% 75%,var(--d) 75% 90%,var(--e) 90% 100%)"><span>2007</span></div>
<div class="k" style="left:428px;top:32px;height:29px;background:linear-gradient(90deg,var(--e) 0 20%,var(--f) 20% 35%,var(--g) 35% 45%,var(--f) 45% 60%,var(--d) 60% 70%,var(--f) 70% 80%,var(--c) 80% 90%,var(--e) 90% 100%)"><span>2008</span></div>
<div class="k" style="left:489px;top:32px;height:29px;background:linear-gradient(90deg,var(--b) 0 10%,var(--d) 10% 20%,var(--f) 20% 35%,var(--g) 35% 55%,var(--f) 55% 70%,var(--c) 70% 85%,var(--e) 85% 100%)"><span>2009</span></div>

<div class="k" style="left:1px;top:62px;height:30px;background:linear-gradient(90deg,var(--b) 0 10%,var(--d) 10% 20%,var(--f) 20% 30%,var(--d) 30% 40%,var(--c) 40% 50%,var(--e) 50% 60%,var(--f) 60% 75%,var(--d) 75% 85%,var(--f) 85% 100%)"><span>1991</span></div>
<div class="k" style="left:62px;top:62px;height:30px;background:linear-gradient(90deg,var(--e) 0 20%,var(--f) 20% 35%,var(--g) 35% 50%,var(--f) 50% 60%,var(--g) 60% 75%,var(--d) 75% 85%,var(--b) 85% 100%)"><span>1992</span></div>
<div class="k" style="left:123px;top:62px;height:30px;background:linear-gradient(90deg,var(--e) 0 15%,var(--f) 15% 30%,var(--g) 30% 40%,var(--e) 40% 55%,var(--c) 55% 65%,var(--a) 65% 75%,var(--b) 75% 85%,var(--d) 85% 100%)"><span>1993</span></div>
<div class="k" style="left:184px;top:62px;height:30px;background:linear-gradient(90deg,var(--c) 0 10%,var(--f) 10% 20%,var(--d) 20% 30%,var(--f) 30% 40%,var(--e) 40% 50%,var(--c) 50% 60%,var(--f) 60% 75%,var(--e) 75% 90%,var(--d) 90% 100%)"><span>1994</span></div>
<div class="k" style="left:245px;top:62px;height:30px;background:linear-gradient(90deg,var(--g) 0 20%,var(--f) 20% 35%,var(--g) 35% 55%,var(--h) 55% 65%,var(--g) 65% 80%,var(--f) 80% 90%,var(--d) 90% 100%)"><span>1995</span></div>
<div class="k" style="left:306px;top:62px;height:30px;background:linear-gradient(90deg,var(--b) 0 15%,var(--c) 15% 30%,var(--d) 30% 45%,var(--c) 45% 55%,var(--e) 55% 65%,var(--d) 65% 75%,var(--b) 75% 90%,var(--c) 90% 100%)"><span>1996</span></div>
<div class="k" style="left:367px;top:62px;height:30px;background:linear-gradient(90deg,var(--b) 0 8%,var(--f) 8% 15%,var(--g) 15% 30%,var(--f) 30% 45%,var(--d) 45% 55%,var(--g) 55% 65%,var(--c) 65% 75%,var(--e) 75% 90%,var(--c) 90% 100%)"><span>1997</span></div>
<div class="k" style="left:428px;top:62px;height:30px;background:linear-gradient(90deg,var(--f) 0 15%,var(--g) 15% 25%,var(--h) 25% 35%,var(--f) 35% 50%,var(--g) 50% 60%,var(--f) 60% 75%,var(--d) 75% 85%,var(--e) 85% 100%)"><span>1998</span></div>
<div class="k" style="left:489px;top:62px;height:30px;background:linear-gradient(90deg,var(--f) 0 10%,var(--g) 10% 30%,var(--f) 30% 45%,var(--g) 45% 65%,var(--f) 65% 80%,var(--g) 80% 100%)"><span>1999</span></div>

<div class="k" style="left:1px;top:93px;height:29px;background:linear-gradient(90deg,var(--e) 0 10%,var(--f) 10% 20%,var(--d) 20% 35%,var(--f) 35% 45%,var(--e) 45% 60%,var(--d) 60% 75%,var(--b) 75% 85%,var(--e) 85% 100%)"><span>1981</span></div>
<div class="k" style="left:62px;top:93px;height:29px;background:linear-gradient(90deg,var(--a) 0 10%,var(--b) 10% 20%,var(--e) 20% 35%,var(--f) 35% 45%,var(--e) 45% 60%,var(--f) 60% 70%,var(--d) 70% 85%,var(--e) 85% 100%)"><span>1982</span></div>
<div class="k" style="left:123px;top:93px;height:29px;background:linear-gradient(90deg,var(--e) 0 20%,var(--d) 20% 35%,var(--f) 35% 45%,var(--e) 45% 55%,var(--g) 55% 70%,var(--f) 70% 80%,var(--d) 80% 90%,var(--e) 90% 100%)"><span>1983</span></div>
<div class="k" style="left:184px;top:93px;height:29px;background:linear-gradient(90deg,var(--d) 0 15%,var(--e) 15% 30%,var(--c) 30% 40%,var(--e) 40% 60%,var(--d) 60% 75%,var(--e) 75% 90%,var(--d) 90% 100%)"><span>1984</span></div>
<div class="k" style="left:245px;top:93px;height:29px;background:linear-gradient(90deg,var(--b) 0 15%,var(--c) 15% 25%,var(--d) 25% 35%,var(--b) 35% 50%,var(--c) 50% 65%,var(--e) 65% 75%,var(--b) 75% 90%,var(--c) 90% 100%)"><span>1985</span></div>
<div class="k" style="left:306px;top:93px;height:29px;background:linear-gradient(90deg,var(--b) 0 10%,var(--a) 10% 30%,var(--c) 30% 45%,var(--d) 45% 60%,var(--b) 60% 75%,var(--c) 75% 85%,var(--d) 85% 100%)"><span>1986</span></div>
<div class="k" style="left:367px;top:93px;height:29px;background:linear-gradient(90deg,var(--b) 0 10%,var(--c) 10% 20%,var(--d) 20% 35%,var(--e) 35% 45%,var(--d) 45% 60%,var(--c) 60% 75%,var(--e) 75% 85%,var(--d) 85% 100%)"><span>1987</span></div>
<div class="k" style="left:428px;top:93px;height:29px;background:linear-gradient(90deg,var(--e) 0 15%,var(--f) 15% 30%,var(--g) 30% 40%,var(--f) 40% 55%,var(--e) 55% 70%,var(--f) 70% 80%,var(--d) 80% 90%,var(--e) 90% 100%)"><span>1988</span></div>
<div class="k" style="left:489px;top:93px;height:29px;background:linear-gradient(90deg,var(--f) 0 10%,var(--h) 10% 20%,var(--g) 20% 35%,var(--f) 35% 50%,var(--g) 50% 65%,var(--e) 65% 80%,var(--d) 80% 90%,var(--f) 90% 100%)"><span>1989</span></div>

<div class="k" style="left:1px;top:123px;height:30px;background:linear-gradient(90deg,var(--d) 0 25%,var(--e) 25% 35%,var(--c) 35% 50%,var(--d) 50% 70%,var(--e) 70% 80%,var(--d) 80% 100%)"><span>1971</span></div>
<div class="k" style="left:62px;top:123px;height:30px;background:linear-gradient(90deg,var(--e) 0 20%,var(--d) 20% 35%,var(--e) 35% 45%,var(--c) 45% 55%,var(--b) 55% 100%)"><span>1972</span></div>
<div class="k" style="left:123px;top:123px;height:30px;background:linear-gradient(90deg,var(--e) 0 15%,var(--f) 15% 25%,var(--d) 25% 40%,var(--e) 40% 55%,var(--c) 55% 70%,var(--e) 70% 85%,var(--d) 85% 100%)"><span>1973</span></div>
<div class="k" style="left:184px;top:123px;height:30px;background:linear-gradient(90deg,var(--f) 0 15%,var(--g) 15% 25%,var(--e) 25% 40%,var(--f) 40% 55%,var(--d) 55% 65%,var(--b) 65% 80%,var(--c) 80% 90%,var(--d) 90% 100%)"><span>1974</span></div>
<div class="k" style="left:245px;top:123px;height:30px;background:linear-gradient(90deg,var(--h) 0 10%,var(--g) 10% 20%,var(--e) 20% 35%,var(--d) 35% 50%,var(--f) 50% 60%,var(--e) 60% 75%,var(--c) 75% 90%,var(--d) 90% 100%)"><span>1975</span></div>
<div class="k" style="left:306px;top:123px;height:30px;background:linear-gradient(90deg,var(--e) 0 20%,var(--d) 20% 35%,var(--f) 35% 45%,var(--h) 45% 60%,var(--f) 60% 70%,var(--d) 70% 85%,var(--e) 85% 100%)"><span>1976</span></div>
<div class="k" style="left:367px;top:123px;height:30px;background:linear-gradient(90deg,var(--d) 0 15%,var(--e) 15% 30%,var(--c) 30% 45%,var(--d) 45% 60%,var(--e) 60% 70%,var(--c) 70% 85%,var(--d) 85% 100%)"><span>1977</span></div>
<div class="k" style="left:428px;top:123px;height:30px;background:linear-gradient(90deg,var(--d) 0 20%,var(--c) 20% 35%,var(--e) 35% 50%,var(--d) 50% 70%,var(--c) 70% 85%,var(--e) 85% 100%)"><span>1978</span></div>
<div class="k" style="left:489px;top:123px;height:30px;background:linear-gradient(90deg,var(--a) 0 20%,var(--b) 20% 35%,var(--c) 35% 55%,var(--d) 55% 75%,var(--c) 75% 90%,var(--d) 90% 100%)"><span>1979</span></div>

<div class="k" style="left:1px;top:154px;height:29px;background:linear-gradient(90deg,var(--c) 0 10%,var(--g) 10% 15%,var(--h) 15% 25%,var(--f) 25% 35%,var(--d) 35% 50%,var(--e) 50% 65%,var(--c) 65% 80%,var(--d) 80% 100%)"><span>1961</span></div>
<div class="k" style="left:62px;top:154px;height:29px;background:linear-gradient(90deg,var(--c) 0 15%,var(--b) 15% 25%,var(--d) 25% 40%,var(--c) 40% 55%,var(--b) 55% 80%,var(--c) 80% 100%)"><span>1962</span></div>
<div class="k" style="left:123px;top:154px;height:29px;background:linear-gradient(90deg,var(--a) 0 30%,var(--b) 30% 50%,var(--c) 50% 65%,var(--d) 65% 80%,var(--b) 80% 100%)"><span>1963</span></div>
<div class="k" style="left:184px;top:154px;height:29px;background:linear-gradient(90deg,var(--c) 0 15%,var(--d) 15% 30%,var(--e) 30% 40%,var(--c) 40% 55%,var(--d) 55% 70%,var(--b) 70% 85%,var(--d) 85% 100%)"><span>1964</span></div>
<div class="k" style="left:245px;top:154px;height:29px;background:linear-gradient(90deg,var(--b) 0 15%,var(--c) 15% 30%,var(--d) 30% 45%,var(--b) 45% 60%,var(--e) 60% 70%,var(--c) 70% 85%,var(--b) 85% 100%)"><span>1965</span></div>
<div class="k" style="left:306px;top:154px;height:29px;background:linear-gradient(90deg,var(--e) 0 20%,var(--d) 20% 40%,var(--e) 40% 55%,var(--c) 55% 70%,var(--d) 70% 85%,var(--c) 85% 100%)"><span>1966</span></div>
<div class="k" style="left:367px;top:154px;height:29px;background:linear-gradient(90deg,var(--f) 0 10%,var(--e) 10% 25%,var(--d) 25% 45%,var(--e) 45% 55%,var(--c) 55% 70%,var(--b) 70% 85%,var(--d) 85% 100%)"><span>1967</span></div>
<div class="k" style="left:428px;top:154px;height:29px;background:linear-gradient(90deg,var(--d) 0 20%,var(--c) 20% 35%,var(--d) 35% 55%,var(--e) 55% 70%,var(--c) 70% 85%,var(--d) 85% 100%)"><span>1968</span></div>
<div class="k" style="left:489px;top:154px;height:29px;background:linear-gradient(90deg,var(--b) 0 15%,var(--c) 15% 30%,var(--e) 30% 45%,var(--d) 45% 60%,var(--e) 60% 75%,var(--c) 75% 90%,var(--e) 90% 100%)"><span>1969</span></div>

<div class="k" style="left:1px;top:184px;height:30px;background:linear-gradient(90deg,var(--a) 0 15%,var(--b) 15% 30%,var(--c) 30% 50%,var(--d) 50% 65%,var(--c) 65% 80%,var(--b) 80% 90%,var(--d) 90% 100%)"><span>1951</span></div>
<div class="k" style="left:62px;top:184px;height:30px;background:linear-gradient(90deg,var(--d) 0 20%,var(--e) 20% 35%,var(--g) 35% 55%,var(--f) 55% 65%,var(--d) 65% 80%,var(--a) 80% 100%)"><span>1952</span></div>
<div class="k" style="left:123px;top:184px;height:30px;background:linear-gradient(90deg,var(--b) 0 15%,var(--c) 15% 30%,var(--d) 30% 50%,var(--e) 50% 60%,var(--c) 60% 75%,var(--d) 75% 90%,var(--c) 90% 100%)"><span>1953</span></div>
<div class="k" style="left:184px;top:184px;height:30px;background:linear-gradient(90deg,var(--d) 0 15%,var(--f) 15% 25%,var(--c) 25% 40%,var(--e) 40% 55%,var(--d) 55% 70%,var(--c) 70% 85%,var(--e) 85% 100%)"><span>1954</span></div>
<div class="k" style="left:245px;top:184px;height:30px;background:linear-gradient(90deg,var(--b) 0 20%,var(--c) 20% 40%,var(--b) 40% 55%,var(--g) 55% 65%,var(--e) 65% 75%,var(--c) 75% 100%)"><span>1955</span></div>
<div class="k" style="left:306px;top:184px;height:30px;background:linear-gradient(90deg,var(--b) 0 20%,var(--c) 20% 40%,var(--b) 40% 55%,var(--d) 55% 70%,var(--c) 70% 85%,var(--b) 85% 100%)"><span>1956</span></div>
<div class="k" style="left:367px;top:184px;height:30px;background:linear-gradient(90deg,var(--g) 0 10%,var(--h) 10% 20%,var(--f) 20% 35%,var(--e) 35% 50%,var(--d) 50% 60%,var(--c) 60% 75%,var(--b) 75% 85%,var(--d) 85% 100%)"><span>1957</span></div>
<div class="k" style="left:428px;top:184px;height:30px;background:linear-gradient(90deg,var(--d) 0 15%,var(--c) 15% 30%,var(--e) 30% 45%,var(--d) 45% 60%,var(--c) 60% 75%,var(--d) 75% 90%,var(--c) 90% 100%)"><span>1958</span></div>
<div class="k" style="left:489px;top:184px;height:30px;background:linear-gradient(90deg,var(--c) 0 10%,var(--e) 10% 20%,var(--g) 20% 45%,var(--f) 45% 60%,var(--g) 60% 85%,var(--f) 85% 100%)"><span>1959</span></div>

<div class="k" style="left:1px;top:215px;height:30px;background:linear-gradient(90deg,var(--b) 0 20%,var(--c) 20% 35%,var(--d) 35% 50%,var(--c) 50% 65%,var(--b) 65% 80%,var(--c) 80% 100%)"><span>1941</span></div>
<div class="k" style="left:62px;top:215px;height:30px;background:linear-gradient(90deg,var(--b) 0 10%,var(--a) 10% 25%,var(--c) 25% 40%,var(--d) 40% 55%,var(--c) 55% 70%,var(--e) 70% 85%,var(--c) 85% 100%)"><span>1942</span></div>
<div class="k" style="left:123px;top:215px;height:30px;background:linear-gradient(90deg,var(--f) 0 10%,var(--g) 10% 40%,var(--f) 40% 55%,var(--g) 55% 70%,var(--e) 70% 85%,var(--f) 85% 100%)"><span>1943</span></div>
<div class="k" style="left:184px;top:215px;height:30px;background:linear-gradient(90deg,var(--e) 0 15%,var(--d) 15% 30%,var(--e) 30% 45%,var(--f) 45% 55%,var(--e) 55% 75%,var(--d) 75% 90%,var(--e) 90% 100%)"><span>1944</span></div>
<div class="k" style="left:245px;top:215px;height:30px;background:linear-gradient(90deg,var(--c) 0 10%,var(--g) 10% 20%,var(--h) 20% 25%,var(--f) 25% 40%,var(--e) 40% 90%,var(--d) 90% 100%)"><span>1945</span></div>
<div class="k" style="left:306px;top:215px;height:30px;background:linear-gradient(90deg,var(--d) 0 15%,var(--e) 15% 30%,var(--c) 30% 40%,var(--f) 40% 50%,var(--e) 50% 65%,var(--c) 65% 80%,var(--e) 80% 100%)"><span>1946</span></div>
<div class="k" style="left:367px;top:215px;height:30px;background:linear-gradient(90deg,var(--a) 0 40%,var(--g) 40% 70%,var(--f) 70% 85%,var(--g) 85% 100%)"><span>1947</span></div>
<div class="k" style="left:428px;top:215px;height:30px;background:linear-gradient(90deg,var(--f) 0 15%,var(--g) 15% 30%,var(--e) 30% 45%,var(--f) 45% 60%,var(--d) 60% 75%,var(--f) 75% 85%,var(--e) 85% 100%)"><span>1948</span></div>
<div class="k" style="left:489px;top:215px;height:30px;background:linear-gradient(90deg,var(--f) 0 15%,var(--g) 15% 30%,var(--f) 30% 45%,var(--g) 45% 60%,var(--d) 60% 70%,var(--g) 70% 85%,var(--f) 85% 100%)"><span>1949</span></div>

<div class="k" style="left:1px;top:246px;height:30px;background:linear-gradient(90deg,var(--d) 0 20%,var(--c) 20% 35%,var(--d) 35% 55%,var(--c) 55% 65%,var(--b) 65% 80%,var(--d) 80% 100%)"><span>1931</span></div>
<div class="k" style="left:62px;top:246px;height:30px;background:linear-gradient(90deg,var(--d) 0 15%,var(--e) 15% 30%,var(--c) 30% 40%,var(--d) 40% 60%,var(--b) 60% 75%,var(--c) 75% 85%,var(--d) 85% 100%)"><span>1932</span></div>
<div class="k" style="left:123px;top:246px;height:30px;background:linear-gradient(90deg,var(--e) 0 15%,var(--f) 15% 30%,var(--g) 30% 70%,var(--f) 70% 85%,var(--d) 85% 100%)"><span>1933</span></div>
<div class="k" style="left:184px;top:246px;height:30px;background:linear-gradient(90deg,var(--c) 0 15%,var(--d) 15% 30%,var(--f) 30% 40%,var(--d) 40% 55%,var(--c) 55% 70%,var(--b) 70% 85%,var(--d) 85% 100%)"><span>1934</span></div>
<div class="k" style="left:245px;top:246px;height:30px;background:linear-gradient(90deg,var(--e) 0 10%,var(--g) 10% 25%,var(--f) 25% 40%,var(--e) 40% 60%,var(--d) 60% 70%,var(--e) 70% 85%,var(--f) 85% 100%)"><span>1935</span></div>
<div class="k" style="left:306px;top:246px;height:30px;background:linear-gradient(90deg,var(--c) 0 15%,var(--d) 15% 30%,var(--c) 30% 45%,var(--d) 45% 60%,var(--e) 60% 75%,var(--c) 75% 90%,var(--d) 90% 100%)"><span>1936</span></div>
<div class="k" style="left:367px;top:246px;height:30px;background:linear-gradient(90deg,var(--e) 0 20%,var(--d) 20% 35%,var(--e) 35% 50%,var(--f) 50% 65%,var(--e) 65% 80%,var(--d) 80% 100%)"><span>1937</span></div>
<div class="k" style="left:428px;top:246px;height:30px;background:linear-gradient(90deg,var(--e) 0 15%,var(--h) 15% 22%,var(--f) 22% 35%,var(--e) 35% 55%,var(--f) 55% 70%,var(--d) 70% 85%,var(--c) 85% 100%)"><span>1938</span></div>
<div class="k" style="left:489px;top:246px;height:30px;background:linear-gradient(90deg,var(--d) 0 15%,var(--c) 15% 30%,var(--d) 30% 50%,var(--e) 50% 65%,var(--c) 65% 80%,var(--d) 80% 100%)"><span>1939</span></div>

<div class="k" style="left:1px;top:277px;height:30px;background:linear-gradient(90deg,var(--f) 0 10%,var(--h) 10% 18%,var(--f) 18% 30%,var(--g) 30% 45%,var(--f) 45% 60%,var(--d) 60% 70%,var(--b) 70% 80%,var(--f) 80% 100%)"><span>1921</span></div>
<div class="k" style="left:62px;top:277px;height:30px;background:linear-gradient(90deg,var(--d) 0 15%,var(--e) 15% 25%,var(--c) 25% 40%,var(--d) 40% 55%,var(--b) 55% 70%,var(--a) 70% 90%,var(--c) 90% 100%)"><span>1922</span></div>
<div class="k" style="left:123px;top:277px;height:30px;background:linear-gradient(90deg,var(--g) 0 15%,var(--f) 15% 30%,var(--g) 30% 45%,var(--e) 45% 60%,var(--d) 60% 75%,var(--b) 75% 85%,var(--d) 85% 100%)"><span>1923</span></div>
<div class="k" style="left:184px;top:277px;height:30px;background:linear-gradient(90deg,var(--b) 0 15%,var(--c) 15% 30%,var(--d) 30% 45%,var(--c) 45% 60%,var(--e) 60% 70%,var(--b) 70% 85%,var(--c) 85% 100%)"><span>1924</span></div>
<div class="k" style="left:245px;top:277px;height:30px;background:linear-gradient(90deg,var(--e) 0 15%,var(--f) 15% 30%,var(--d) 30% 45%,var(--f) 45% 55%,var(--e) 55% 70%,var(--b) 70% 80%,var(--c) 80% 100%)"><span>1925</span></div>
<div class="k" style="left:306px;top:277px;height:30px;background:linear-gradient(90deg,var(--g) 0 15%,var(--f) 15% 30%,var(--g) 30% 45%,var(--e) 45% 60%,var(--f) 60% 75%,var(--g) 75% 90%,var(--e) 90% 100%)"><span>1926</span></div>
<div class="k" style="left:367px;top:277px;height:30px;background:linear-gradient(90deg,var(--b) 0 15%,var(--d) 15% 30%,var(--e) 30% 45%,var(--c) 45% 60%,var(--d) 60% 75%,var(--b) 75% 85%,var(--d) 85% 100%)"><span>1927</span></div>
<div class="k" style="left:428px;top:277px;height:30px;background:linear-gradient(90deg,var(--d) 0 15%,var(--f) 15% 25%,var(--d) 25% 40%,var(--c) 40% 55%,var(--e) 55% 70%,var(--d) 70% 85%,var(--c) 85% 100%)"><span>1928</span></div>
<div class="k" style="left:489px;top:277px;height:30px;background:linear-gradient(90deg,var(--a) 0 15%,var(--b) 15% 25%,var(--c) 25% 40%,var(--d) 40% 60%,var(--c) 60% 75%,var(--d) 75% 90%,var(--e) 90% 100%)"><span>1929</span></div>
</div>

<!-- TEXT OVERLAY (pixel coords) -->
<svg class="abs" style="left:0;top:0" width="1100" height="618" viewBox="0 0 1100 618">
<defs><marker id="ah" viewBox="0 0 10 10" refX="5" refY="5" markerWidth="4" markerHeight="4" orient="auto-start-reverse"><path d="M0,0 L10,5 L0,10 z" fill="#8a8a8a"/></marker></defs>
<g font-family="Liberation Sans, sans-serif" fill="#2a2a2a">
<text x="52" y="107.5" font-size="10" textLength="36" lengthAdjust="spacingAndGlyphs">Sioux City</text>
<text x="333" y="107.5" font-size="10" textLength="33" lengthAdjust="spacingAndGlyphs">Waterloo</text>
<text x="447" y="107.5" font-size="10" textLength="34" lengthAdjust="spacingAndGlyphs">Dubuque</text>
<text x="371" y="156" font-size="10" textLength="49" lengthAdjust="spacingAndGlyphs">Cedar Rapids</text>
<text x="237" y="185.5" font-size="11.5" textLength="51" lengthAdjust="spacingAndGlyphs">Des Moines</text>
<text x="451" y="197.5" font-size="10" textLength="38" lengthAdjust="spacingAndGlyphs">Davenport</text>
</g>
<g font-family="Liberation Serif, serif" font-size="9.5" fill="#333" text-anchor="end">
<text x="568" y="55">35</text><text x="568" y="85">30</text><text x="568" y="115">25</text><text x="568" y="144.7">20</text><text x="568" y="174.6">15</text><text x="568" y="204.5">10</text><text x="568" y="234.4">5</text><text x="568" y="264.3">0</text><text x="568" y="294.2">-5</text>
</g>
<g font-family="Liberation Serif, serif" font-size="9.5" fill="#333" text-anchor="middle">
<text x="576.3" y="276">1310</text><text x="617.4" y="276">1369</text><text x="658.1" y="276">1428</text><text x="699.1" y="276">1487</text><text x="740.2" y="276">1546</text><text x="780.9" y="276">1605</text><text x="821.9" y="276">1664</text><text x="863" y="276">1723</text><text x="903.7" y="276">1782</text><text x="944.7" y="276">1841</text><text x="985.8" y="276">1900</text><text x="1026.5" y="276">1959</text><text x="1067.5" y="276">2018</text>
<text x="679" y="41.5" textLength="68" lengthAdjust="spacingAndGlyphs">Simon van Halen to</text>
<text x="679" y="53" textLength="58" lengthAdjust="spacingAndGlyphs">Edward III, 35%</text>
<text x="719" y="74" textLength="56" lengthAdjust="spacingAndGlyphs">Amadi/Rommel</text>
<text x="719" y="85.5" textLength="44" lengthAdjust="spacingAndGlyphs">loan to King</text>
<text x="719" y="97" textLength="55" lengthAdjust="spacingAndGlyphs">Sigismund, 18%</text>
<text x="831" y="105" textLength="79" lengthAdjust="spacingAndGlyphs">Charles II Dunkirk sale</text>
<text x="831" y="116.5" textLength="80" lengthAdjust="spacingAndGlyphs">and cash discount, 16%</text>
<text x="976" y="40" textLength="75" lengthAdjust="spacingAndGlyphs">Annual real rate trend</text>
<text x="976" y="52" textLength="44" lengthAdjust="spacingAndGlyphs">-1.96bps p.a.</text>
<text x="1037" y="87" textLength="80" lengthAdjust="spacingAndGlyphs">2018 actual real: 0.51%</text>
<text x="1037" y="98.5" textLength="73.5" lengthAdjust="spacingAndGlyphs">Trend-implied: 0.19%</text>
<text x="960" y="158" textLength="94.5" lengthAdjust="spacingAndGlyphs">Rothschild loan to Beni dell</text>
<text x="960" y="169.5" textLength="68" lengthAdjust="spacingAndGlyphs">Appannaggio (Papal</text>
<text x="960" y="180.5" textLength="47.5" lengthAdjust="spacingAndGlyphs">Treasury), 6%</text>
<text x="1067" y="155" textLength="39.5" lengthAdjust="spacingAndGlyphs">U.S. savings</text>
<text x="1067" y="166" textLength="44" lengthAdjust="spacingAndGlyphs">bonds, series</text>
<text x="1067" y="177" textLength="10.5" lengthAdjust="spacingAndGlyphs">EE</text>
</g>
<rect x="932.5" y="28.5" width="87.5" height="27.5" fill="none" stroke="#444" stroke-width="1" stroke-dasharray="2,1.5"/>
<rect x="986.5" y="75.5" width="101.5" height="27.5" fill="none" stroke="#444" stroke-width="1" stroke-dasharray="2,1.5"/>
<g stroke="#999" stroke-width="1.5" stroke-dasharray="4,2.5" fill="none" marker-end="url(#ah)">
<line x1="643" y1="42.7" x2="610" y2="50"/>
<line x1="686.8" y1="101.7" x2="634" y2="130"/>
<line x1="821" y1="122" x2="821" y2="146"/>
<line x1="948" y1="182" x2="948" y2="206"/>
<line x1="1054.6" y1="180" x2="1046" y2="201"/>
</g>
<g font-family="Liberation Sans, sans-serif" font-size="7.6" fill="#555" text-anchor="end">
<text x="68.4" y="329.4">Beef (beef herd)</text><text x="68.4" y="339">Lamb &amp; Mutton</text><text x="68.4" y="348.7">Cheese</text><text x="68.4" y="358">Beef (dairy herd)</text><text x="68.4" y="367.7">Chocolate</text><text x="68.4" y="377.4">Coffee</text><text x="68.4" y="387">Prawns (farmed)</text><text x="68.4" y="396.7">Palm Oil</text><text x="68.4" y="406">Pig Meat</text><text x="68.4" y="415.7">Poultry Meat</text><text x="68.4" y="425.4">Olive Oil</text><text x="68.4" y="435">Fish (farmed)</text><text x="68.4" y="444.4">Eggs</text><text x="68.4" y="454">Rice</text><text x="68.4" y="463.7">Fish (wild catch)</text><text x="68.4" y="473">Milk</text><text x="68.4" y="482.7">Cane Sugar</text><text x="68.4" y="492.4">Groundnuts</text><text x="68.4" y="502">Wheat &amp; Rye</text><text x="68.4" y="511.4">Tomatoes</text><text x="68.4" y="521">Maize (Corn)</text><text x="68.4" y="530.7">Cassava</text><text x="68.4" y="540">Soymilk</text><text x="68.4" y="549.7" fill="#aaa">Peas</text><text x="68.4" y="559.4">Bananas</text><text x="68.4" y="568.7">Root Vegetables</text><text x="68.4" y="578.4">Apples</text><text x="68.4" y="588">Citrus Fruit</text><text x="68.4" y="597.4">Nuts</text>
</g>
<g font-family="Liberation Sans, sans-serif" font-size="7.6" fill="#666">
<text x="528" y="329.4">60</text><text x="260.4" y="339">24</text><text x="235.8" y="348.7">21</text><text x="234.7" y="358">21</text><text x="216.8" y="367.7">19</text><text x="200.7" y="377.4">17</text><text x="164.9" y="387">12</text><text x="131.6" y="396.7">8</text><text x="129" y="406">7</text><text x="120.4" y="415.7">6</text><text x="122" y="425.4">6</text><text x="114" y="435">5</text><text x="107.7" y="444.4">4.5</text><text x="103" y="454">4</text><text x="95.4" y="463.7">3</text><text x="95.4" y="473">3</text><text x="94" y="482.7">3</text><text x="93" y="492.4">2.5</text><text x="85" y="502">1.4</text><text x="85" y="511.4">1.4</text><text x="82.5" y="521">1.0</text><text x="82" y="530.7">1.0</text><text x="80" y="540">0.9</text><text x="80.5" y="549.7">0.9</text><text x="79.3" y="559.4">0.7</text><text x="77.2" y="568.7">0.4</text><text x="77.2" y="578.4">0.4</text><text x="77.2" y="588">0.3</text><text x="92" y="597.4">0.3</text>
</g>
<g font-family="Liberation Sans, sans-serif" font-size="6" fill="#aaa" text-anchor="middle">
<text x="73" y="607">0</text><text x="110.6" y="607">5</text><text x="148.3" y="607">10</text><text x="186" y="607">15</text><text x="223.7" y="607">20</text><text x="261.4" y="607">25</text><text x="299" y="607">30</text><text x="336.7" y="607">35</text><text x="374.4" y="607">40</text><text x="412" y="607">45</text><text x="449.7" y="607">50</text><text x="487.4" y="607">55</text><text x="525" y="607">60</text>
</g>
<g font-family="Liberation Sans, sans-serif" font-size="4.8" fill="#777">
<text x="334" y="338" textLength="201" lengthAdjust="spacingAndGlyphs">Methane production from cows, and land conversion for grazing and animal feed</text>
<text x="334" y="343.5" textLength="177" lengthAdjust="spacingAndGlyphs">means beef from dedicated beef herds has a very high carbon footprint.</text>
<text x="247" y="355" textLength="103.5" lengthAdjust="spacingAndGlyphs">Dairy co-products means beef from dairy herds</text>
<text x="247" y="360" textLength="121" lengthAdjust="spacingAndGlyphs">has a lower carbon footprint than dedicated beef herds.</text>
<text x="141" y="408.5" textLength="157" lengthAdjust="spacingAndGlyphs">Pigs and poultry are non-ruminant livestock so do not produce methane.</text>
<text x="141" y="413.5" textLength="130" lengthAdjust="spacingAndGlyphs">They have significantly lower emissions than beef and lamb.</text>
<text x="111" y="453" textLength="150.5" lengthAdjust="spacingAndGlyphs">Flooded rice produces methane, which dominates on-farm emissions.</text>
<text x="104" y="463.5" fill="#c08060" textLength="142.5" lengthAdjust="spacingAndGlyphs">Farm emissions for wild fish refers to fuel used by fishing vessels.</text>
<text x="104" y="470" textLength="94" lengthAdjust="spacingAndGlyphs">Methane production from cows means dairy milk</text>
<text x="104" y="475" textLength="119.6" lengthAdjust="spacingAndGlyphs">has significantly higher emissions than plant-based milks.</text>
</g>
<g font-family="Liberation Sans, sans-serif" font-size="6.8" fill="#8a8a8a">
<text x="116" y="523" textLength="118.6" lengthAdjust="spacingAndGlyphs">CO₂ emissions from most plant-based</text>
<text x="116" y="530" textLength="115.8" lengthAdjust="spacingAndGlyphs">products are as much as 10-50 times</text>
<text x="116" y="537" textLength="125.6" lengthAdjust="spacingAndGlyphs">lower than most animal-based products.</text>
<text x="116" y="551" textLength="163" lengthAdjust="spacingAndGlyphs">Factors such as <tspan fill="#e8414e">transport distance</tspan>, <tspan fill="#f5b301">retail</tspan>, packaging,</text>
<text x="116" y="558" textLength="107.4" lengthAdjust="spacingAndGlyphs">or specific <tspan fill="#d9805a">farm methods</tspan> are often</text>
<text x="116" y="565" textLength="135.4" lengthAdjust="spacingAndGlyphs">small compared to importance of food type.</text>
</g>
<path d="M328,333 L328,339 L329.6,337.6 L331,340 L332,339.4 L330.6,337 L332.6,336.8 Z" fill="#333"/>
<path d="M136,400 Q139,400 139,403 L139,406.5 Q139,408 141,408.5 Q139,409 139,410.5 L139,414 Q139,417 136,417" fill="none" stroke="#777" stroke-width="0.8"/>
<path d="M104,477 Q110,477 110,482 L110,533 Q110,537 114,537 Q110,537 110,541 L110,592 Q110,597 104,597" fill="none" stroke="#777" stroke-width="0.9"/>
<path d="M45,608 Q48,600 55,599" fill="none" stroke="#2a9a4a" stroke-width="1"/>
<circle cx="55" cy="599" r="1.2" fill="#2a9a4a"/>
</svg>
</div></body></html>
